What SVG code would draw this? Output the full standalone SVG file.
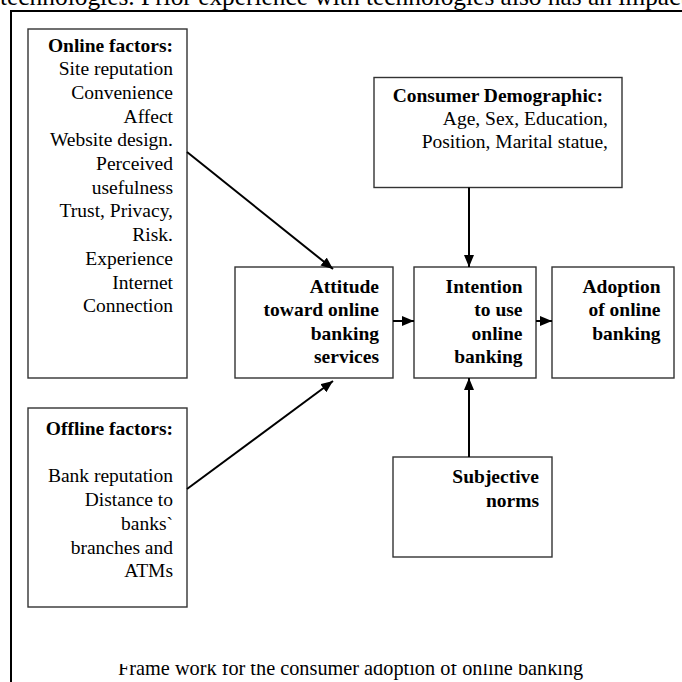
<svg xmlns="http://www.w3.org/2000/svg" width="682" height="682" viewBox="0 0 682 682">
<defs>
<style>
.box{fill:#fff;stroke:#333;stroke-width:1.4}
.t{font-family:"Liberation Serif","Times New Roman",serif;font-size:19.5px;fill:#000;text-anchor:end}
.b{font-weight:bold}
.c{stroke:#000;stroke-width:2;fill:none;marker-end:url(#ah)}
</style>
<marker id="ah" markerUnits="userSpaceOnUse" markerWidth="13" markerHeight="11" refX="12" refY="5" orient="auto">
<path d="M0,0 L12,5 L0,10 z" fill="#000"/>
</marker>
<clipPath id="capclip"><rect x="0" y="664" width="682" height="30"/></clipPath>
</defs>
<rect width="682" height="682" fill="#fff"/>
<text x="0" y="5" font-family="Liberation Serif,serif" font-size="25.4" fill="#000">technologies. Prior experience with technologies also has an impact</text>
<rect x="11" y="11" width="700" height="700" fill="none" stroke="#000" stroke-width="2"/>

<g id="online">
<rect class="box" x="28" y="29" width="159" height="349"/>
<text class="t b" x="173" y="51.5">Online factors:</text>
<text class="t" x="173" y="75.2">Site reputation</text>
<text class="t" x="173" y="98.9">Convenience</text>
<text class="t" x="173" y="122.6">Affect</text>
<text class="t" x="173" y="146.3">Website design.</text>
<text class="t" x="173" y="170">Perceived</text>
<text class="t" x="173" y="193.7">usefulness</text>
<text class="t" x="173" y="217.4">Trust, Privacy,</text>
<text class="t" x="173" y="241.1">Risk.</text>
<text class="t" x="173" y="264.8">Experience</text>
<text class="t" x="173" y="288.5">Internet</text>
<text class="t" x="173" y="312.2">Connection</text>
</g>

<g id="offline">
<rect class="box" x="28" y="408" width="159" height="199"/>
<text class="t b" x="173" y="435">Offline factors:</text>
<text class="t" x="173" y="482.4">Bank reputation</text>
<text class="t" x="173" y="506.1">Distance to</text>
<text class="t" x="173" y="529.8">banks`</text>
<text class="t" x="173" y="553.5">branches and</text>
<text class="t" x="173" y="577.2">ATMs</text>
</g>

<g id="demographic">
<rect class="box" x="374" y="77.5" width="248" height="110"/>
<text class="t b" x="603" y="101.7" font-size="20">Consumer Demographic:</text>
<text class="t" x="608" y="125" font-size="20">Age, Sex, Education,</text>
<text class="t" x="608" y="148.3" font-size="20">Position, Marital statue,</text>
</g>

<g id="attitude">
<rect class="box" x="235" y="267" width="158" height="111"/>
<text class="t b" x="379" y="293">Attitude</text>
<text class="t b" x="379" y="316.3">toward online</text>
<text class="t b" x="379" y="339.6">banking</text>
<text class="t b" x="379" y="362.9">services</text>
</g>

<g id="intention">
<rect class="box" x="414" y="267" width="122" height="111"/>
<text class="t b" x="522.5" y="293">Intention</text>
<text class="t b" x="522.5" y="316.3">to use</text>
<text class="t b" x="522.5" y="339.6">online</text>
<text class="t b" x="522.5" y="362.9">banking</text>
</g>

<g id="adoption">
<rect class="box" x="552" y="267" width="122" height="111"/>
<text class="t b" x="660.5" y="293">Adoption</text>
<text class="t b" x="660.5" y="316.3">of online</text>
<text class="t b" x="660.5" y="339.6">banking</text>
</g>

<g id="subjective">
<rect class="box" x="393" y="457" width="159" height="100"/>
<text class="t b" x="539" y="483.3">Subjective</text>
<text class="t b" x="539" y="506.7">norms</text>
</g>

<g id="connectors">
<line class="c" x1="187" y1="152" x2="333" y2="269"/>
<line class="c" x1="187" y1="489" x2="333" y2="381"/>
<line class="c" x1="393" y1="321" x2="414" y2="321"/>
<line class="c" x1="536" y1="321" x2="552" y2="321"/>
<line class="c" x1="469" y1="187.5" x2="469" y2="267"/>
<line class="c" x1="469" y1="457" x2="469" y2="378"/>
</g>

<text x="118" y="675" clip-path="url(#capclip)" font-family="Liberation Serif,serif" font-size="20.3" fill="#000">Frame work for the consumer adoption of online banking</text>
</svg>
